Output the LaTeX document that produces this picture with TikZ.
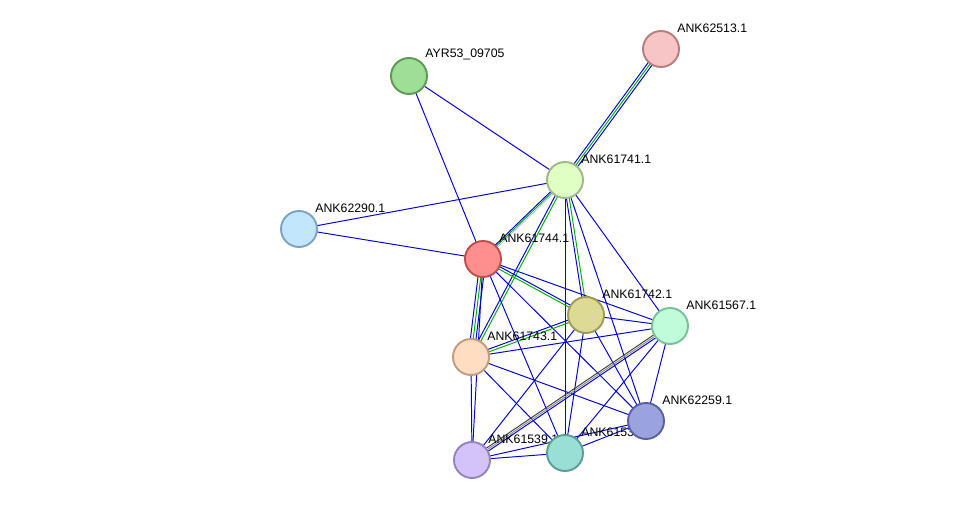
\documentclass[tikz,border=0pt]{standalone}
\usepackage{fontspec}
\setmainfont{Liberation Sans}
\begin{document}
\begin{tikzpicture}[x=0.02cm,y=-0.02cm,
    prot/.style={circle, minimum size=0.72cm, inner sep=0pt, line width=1.1pt},
    lbl/.style={font=\fontsize{7}{8}\selectfont, inner sep=1.5pt, anchor=south west},
    ev/.style={draw=blue!85!black, line width=0.55pt},
    gr/.style={draw=green!70!black, line width=0.55pt},
    bk/.style={draw=black!75, line width=0.55pt}]
  \useasboundingbox (0,0) rectangle (975,506);
  % nodes first as coordinates
  \coordinate (ayr) at (409,76);
  \coordinate (a513) at (661,49);
  \coordinate (a741) at (565,180);
  \coordinate (a290) at (299,229);
  \coordinate (a744) at (483,259);
  \coordinate (a742) at (586,315);
  \coordinate (a567) at (670,326);
  \coordinate (a743) at (471,357);
  \coordinate (a259) at (646,421);
  \coordinate (a539) at (472,460);
  \coordinate (a538) at (565,453);

  % edges
  \draw[ev] (ayr) -- (a741);
  \draw[ev] (ayr) -- (a744);
  \draw[ev, transform canvas={xshift=-1.6pt}] (a513) -- (a741);
  \draw[gr] (a513) -- (a741);
  \draw[ev, transform canvas={xshift=1.6pt}] (a513) -- (a741);
  \draw[ev] (a290) -- (a741);
  \draw[ev] (a290) -- (a744);
  \draw[ev, transform canvas={yshift=1.2pt}] (a741) -- (a744);
  \draw[gr] (a741) -- (a744);
  \draw[draw=blue!30, transform canvas={yshift=-1.2pt}] (a741) -- (a744);
  \draw[ev, transform canvas={xshift=-0.8pt}] (a741) -- (a743);
  \draw[gr, transform canvas={xshift=0.8pt}] (a741) -- (a743);
  \draw[ev, transform canvas={xshift=-0.8pt}] (a741) -- (a742);
  \draw[gr, transform canvas={xshift=0.8pt}] (a741) -- (a742);
  \draw[ev] (a741) -- (a567);
  \draw[ev] (a741) -- (a538);
  \draw[ev] (a741) -- (a259);
  \draw[ev, transform canvas={yshift=0.8pt}] (a744) -- (a742);
  \draw[gr, transform canvas={yshift=-0.8pt}] (a744) -- (a742);
  \draw[ev] (a744) -- (a567);
  \draw[ev, transform canvas={xshift=-1.6pt}] (a744) -- (a743);
  \draw[gr] (a744) -- (a743);
  \draw[ev, transform canvas={xshift=1.6pt}] (a744) -- (a743);
  \draw[ev] (a744) -- (a259);
  \draw[ev] (a744) -- (a538);
  \draw[ev] (a744) -- (a539);
  \draw[ev, transform canvas={yshift=0.8pt}] (a742) -- (a743);
  \draw[gr, transform canvas={yshift=-0.8pt}] (a742) -- (a743);
  \draw[ev] (a742) -- (a567);
  \draw[ev] (a742) -- (a539);
  \draw[ev] (a742) -- (a538);
  \draw[ev] (a742) -- (a259);
  \draw[ev] (a743) -- (a567);
  \draw[ev] (a743) -- (a259);
  \draw[ev] (a743) -- (a538);
  \draw[ev] (a743) -- (a539);
  \draw[bk, transform canvas={yshift=1.2pt}] (a567) -- (a539);
  \draw[draw=black!45, line width=0.55pt] (a567) -- (a539);
  \draw[ev, transform canvas={yshift=-1.2pt}] (a567) -- (a539);
  \draw[ev] (a567) -- (a538);
  \draw[ev] (a567) -- (a259);
  \draw[ev] (a539) -- (a538);
  \draw[ev] (a539) -- (a259);
  \draw[ev] (a538) -- (a259);

  % proteins
  \node[prot, fill={rgb,255:red,159;green,222;blue,151}, draw={rgb,255:red,94;green,154;blue,85}, label={[lbl]north east:AYR53\_09705}] (n1) at (ayr) {};
  \node[prot, fill={rgb,255:red,247;green,197;blue,197}, draw={rgb,255:red,184;green,126;blue,126}, label={[lbl]north east:ANK62513.1}] (n2) at (a513) {};
  \node[prot, fill={rgb,255:red,224;green,255;blue,197}, draw={rgb,255:red,160;green,184;blue,132}, label={[lbl]north east:ANK61741.1}] (n3) at (a741) {};
  \node[prot, fill={rgb,255:red,194;green,230;blue,251}, draw={rgb,255:red,124;green,164;blue,192}, label={[lbl]north east:ANK62290.1}] (n4) at (a290) {};
  \node[prot, fill={rgb,255:red,255;green,143;blue,143}, draw={rgb,255:red,192;green,78;blue,78}, label={[lbl]north east:ANK61744.1}] (n5) at (a744) {};
  \node[prot, fill={rgb,255:red,220;green,218;blue,148}, draw={rgb,255:red,158;green,156;blue,88}, label={[lbl]north east:ANK61742.1}] (n6) at (a742) {};
  \node[prot, fill={rgb,255:red,192;green,252;blue,218}, draw={rgb,255:red,122;green,192;blue,154}, label={[lbl]north east:ANK61567.1}] (n7) at (a567) {};
  \node[prot, fill={rgb,255:red,255;green,221;blue,193}, draw={rgb,255:red,192;green,156;blue,128}, label={[lbl]north east:ANK61743.1}] (n8) at (a743) {};
  \node[prot, fill={rgb,255:red,212;green,195;blue,250}, draw={rgb,255:red,148;green,132;blue,192}, label={[lbl]north east:ANK61539.1}] (n10) at (a539) {};
  \node[prot, fill={rgb,255:red,154;green,223;blue,214}, draw={rgb,255:red,90;green,158;blue,150}, label={[lbl]north east:ANK61538.1}] (n11) at (a538) {};
  \node[prot, fill={rgb,255:red,154;green,163;blue,223}, draw={rgb,255:red,90;green,97;blue,158}, label={[lbl]north east:ANK62259.1}] (n9) at (a259) {};
\end{tikzpicture}
\end{document}
